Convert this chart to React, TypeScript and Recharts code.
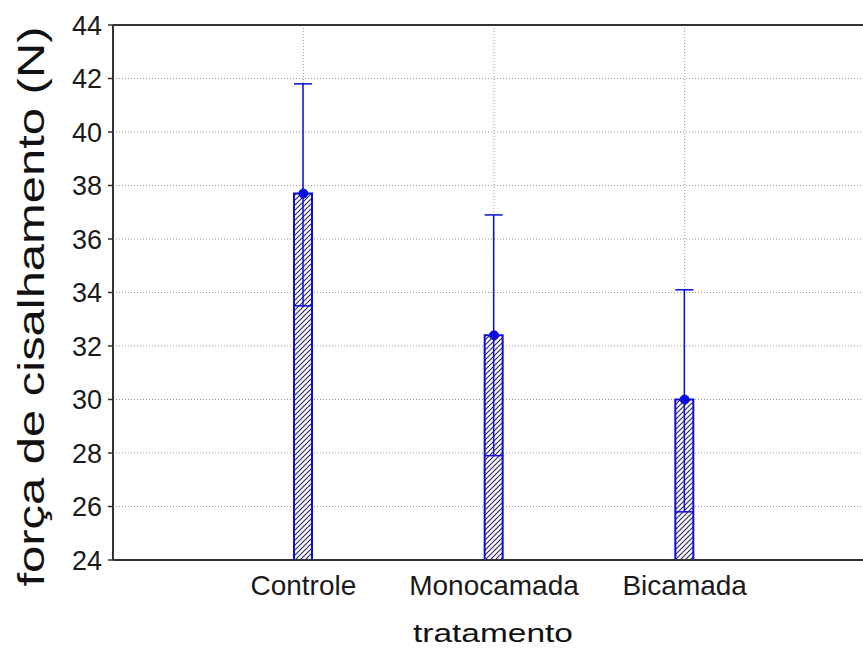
import React from 'react';
import {
  ComposedChart,
  Bar,
  Line,
  ErrorBar,
  XAxis,
  YAxis,
  CartesianGrid,
  ReferenceLine,
  Label,
} from 'recharts';

// values (mean and the ends of the whiskers)
const categories = ['Controle', 'Monocamada', 'Bicamada'];
const means = [37.7, 32.4, 30.0];
const upper = [41.8, 36.9, 34.1];
const lower = [33.5, 27.9, 25.8];
const yTicks = [24, 26, 28, 30, 32, 34, 36, 38, 40, 42, 44];

const data = categories.map((name, i) => ({
  name,
  mean: means[i],
  err: [means[i] - lower[i], upper[i] - means[i]],
}));

const FONT = '"Liberation Sans", Arial, sans-serif';
const BLUE = '#0c0cdc';

const YTitle = (props: any) => {
  const vb = props.viewBox;
  const cx = vb.x + 44;
  const cy = vb.y + vb.height / 2 + 14;
  return (
    <text
      x={cx}
      y={cy}
      transform={`rotate(-90, ${cx}, ${cy})`}
      textAnchor="middle"
      fontFamily={FONT}
      fontSize={37}
      fill="#111"
      textLength={560}
      lengthAdjust="spacingAndGlyphs"
    >
      força de cisalhamento (N)
    </text>
  );
};

const XTitle = (props: any) => {
  const vb = props.viewBox;
  return (
    <text
      x={vb.x + vb.width / 2 - 1}
      y={vb.y + 82}
      textAnchor="middle"
      fontFamily={FONT}
      fontSize={25}
      fill="#111"
      textLength={160}
      lengthAdjust="spacingAndGlyphs"
    >
      tratamento
    </text>
  );
};

export default function App() {
  return (
    <div
      style={{
        position: 'absolute',
        left: 0,
        top: 0,
        width: 863,
        height: 648,
        overflow: 'hidden',
        background: '#fff',
      }}
    >
      <ComposedChart
        width={875}
        height={648}
        data={data}
        margin={{ top: 25, right: 0, bottom: 0, left: 0 }}
      >
        <defs>
          <pattern id="hatch" patternUnits="userSpaceOnUse" width={5} height={5}>
            <rect width={5} height={5} fill="#fff" />
            <path d="M0,5 L5,0 M-1,1 L1,-1 M4,6 L6,4" stroke="#24245e" strokeWidth={1.1} />
          </pattern>
        </defs>
        <CartesianGrid stroke="#9a9a9a" strokeDasharray="1 2" />
        <XAxis
          dataKey="name"
          padding={{ left: 95, right: 95 }}
          height={88}
          axisLine={{ stroke: '#333', strokeWidth: 2 }}
          tickLine={false}
          tickSize={0}
          tickMargin={15}
          tick={{ fontFamily: FONT, fontSize: 28, fill: '#1a1a1a' }}
        >
          <Label content={XTitle} />
        </XAxis>
        <YAxis
          domain={[24, 44]}
          ticks={yTicks}
          interval={0}
          width={113}
          axisLine={{ stroke: '#333', strokeWidth: 2 }}
          tickLine={{ stroke: '#333', strokeWidth: 1.5 }}
          tickSize={5}
          tickMargin={6}
          tick={{ fontFamily: FONT, fontSize: 27, fill: '#1a1a1a' }}
        >
          <Label content={YTitle} />
        </YAxis>
        <ReferenceLine y={44} stroke="#333" strokeWidth={2} />
        <Bar
          dataKey="mean"
          barSize={18}
          fill="url(#hatch)"
          stroke={BLUE}
          strokeWidth={2}
          isAnimationActive={false}
        >
          <ErrorBar dataKey="err" width={9} stroke={BLUE} strokeWidth={1.5} direction="y" />
        </Bar>
        <Line
          dataKey="mean"
          stroke="none"
          dot={{ r: 4.5, fill: BLUE, stroke: BLUE, strokeWidth: 1 }}
          activeDot={false}
          isAnimationActive={false}
        />
      </ComposedChart>
    </div>
  );
}
